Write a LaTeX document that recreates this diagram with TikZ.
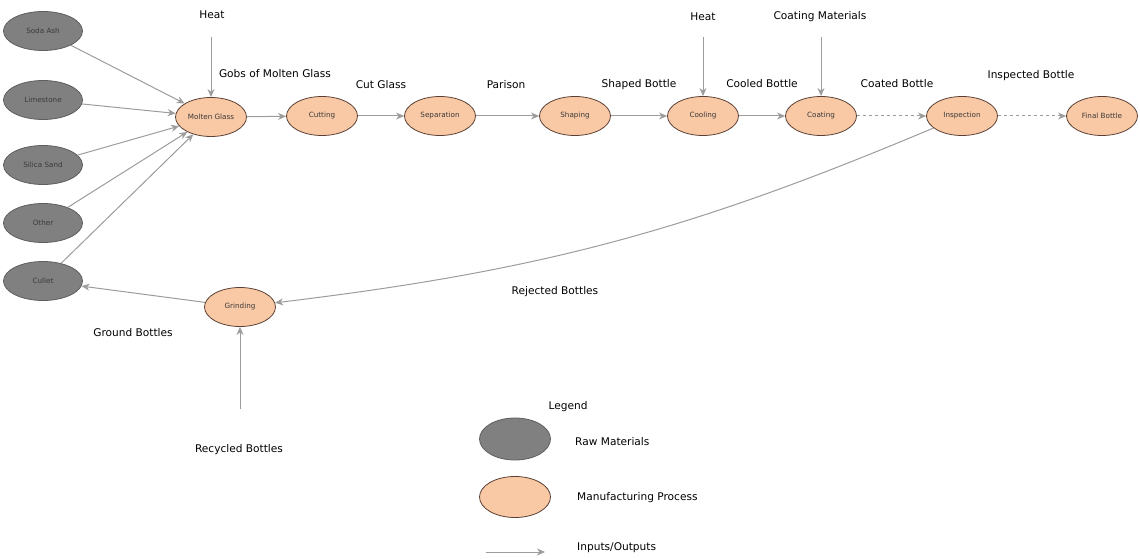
\documentclass[tikz,border=0pt]{standalone}
\usepackage{fontspec}
\setmainfont{DejaVu Sans}
\usetikzlibrary{arrows.meta,shapes.geometric}
\definecolor{rawfill}{HTML}{808080}
\definecolor{rawline}{HTML}{5E5E5E}
\definecolor{procfill}{HTML}{F9C8A4}
\definecolor{procline}{HTML}{5A4034}
\definecolor{conn}{HTML}{9C9C9C}
\definecolor{intext}{HTML}{3A3A3A}
\tikzset{
  raw/.style={ellipse, draw=rawline, line width=0.8pt, fill=rawfill, minimum width=79pt, minimum height=39pt, inner sep=0pt, font=\fontsize{7.2}{8}\selectfont, text=intext},
  proc/.style={ellipse, draw=procline, line width=0.8pt, fill=procfill, minimum width=71pt, minimum height=39pt, inner sep=0pt, font=\fontsize{7.2}{8}\selectfont, text=intext},
  lbl/.style={font=\fontsize{10.6}{12}\selectfont, text=black, inner sep=1pt},
  flow/.style={draw=conn, line width=1pt, -{Stealth[length=8pt,width=7pt,inset=2.5pt]}},
  dflow/.style={flow, dash pattern=on 3pt off 3pt}
}
\begin{document}
\begin{tikzpicture}[x=1pt,y=-1pt]
\useasboundingbox (0,0) rectangle (1140,559);
% raw materials
\node[raw] (soda) at (43,31) {Soda Ash};
\node[raw] (lime) at (43,100) {Limestone};
\node[raw] (silica) at (43,165) {Silica Sand};
\node[raw] (other) at (43,223) {Other};
\node[raw] (cullet) at (43,281) {Cullet};
% process
\node[proc] (molten) at (211,117) {Molten Glass};
\node[proc] (cut) at (322,116) {Cutting};
\node[proc] (sep) at (440,116) {Separation};
\node[proc] (shape) at (575,116) {Shaping};
\node[proc] (cool) at (703,116) {Cooling};
\node[proc] (coat) at (821,116) {Coating};
\node[proc] (insp) at (962,116) {Inspection};
\node[proc] (final) at (1102,116) {Final Bottle};
\node[proc] (grind) at (240,307) {Grinding};
% labels
\node[lbl] (heat1) at (212,15) {Heat};
\coordinate (heat1s) at (211,37);
\node[lbl] (gobs) at (275,74) {Gobs of Molten Glass};
\node[lbl] (cutg) at (381,85) {Cut Glass};
\node[lbl] (paris) at (506,85) {Parison};
\node[lbl] (shb) at (639,85) {Shaped Bottle};
\node[lbl] (heat2) at (703,17) {Heat};
\coordinate (heat2s) at (703,37);
\node[lbl] (coatm) at (820,17) {Coating Materials};
\coordinate (coatms) at (821,37);
\node[lbl] (coolb) at (762,84) {Cooled Bottle};
\node[lbl] (coatb) at (897,84) {Coated Bottle};
\node[lbl] (inspb) at (1031,76) {Inspected Bottle};
\node[lbl] (rej) at (555,292) {Rejected Bottles};
\node[lbl] (ground) at (133,333) {Ground Bottles};
\node[lbl] (recyc) at (239,450) {Recycled Bottles};
\coordinate (recycs) at (240,409);
% connectors
\draw[flow] (soda) -- (molten);
\draw[flow] (lime) -- (molten);
\draw[flow] (silica) -- (molten);
\draw[flow] (other) -- (molten);
\draw[flow] (cullet) -- (molten);
\draw[flow] (heat1s) -- (molten);
\draw[flow] (molten) -- (cut);
\draw[flow] (cut) -- (sep);
\draw[flow] (sep) -- (shape);
\draw[flow] (shape) -- (cool);
\draw[flow] (heat2s) -- (cool);
\draw[flow] (cool) -- (coat);
\draw[flow] (coatms) -- (coat);
\draw[dflow] (coat) -- (insp);
\draw[dflow] (insp) -- (final);
\draw[flow] (insp) to[bend left=8] (grind);
\draw[flow] (grind) -- (cullet);
\draw[flow] (recycs) -- (grind);
% legend
\node[lbl] (legend) at (568,407) {Legend};
\node[raw, minimum width=71pt, minimum height=42pt] (lraw) at (515,439) {};
\node[lbl, anchor=west] (lrawt) at (574,442) {Raw Materials};
\node[proc, minimum height=41pt] (lproc) at (515,497) {};
\node[lbl, anchor=west] (lproct) at (576,498) {Manufacturing Process};
\coordinate (la1) at (486,552);
\coordinate (la2) at (545,552);
\draw[flow] (la1) -- (la2);
\node[lbl, anchor=west] (larrt) at (576,548) {Inputs/Outputs};
\end{tikzpicture}
\end{document}
